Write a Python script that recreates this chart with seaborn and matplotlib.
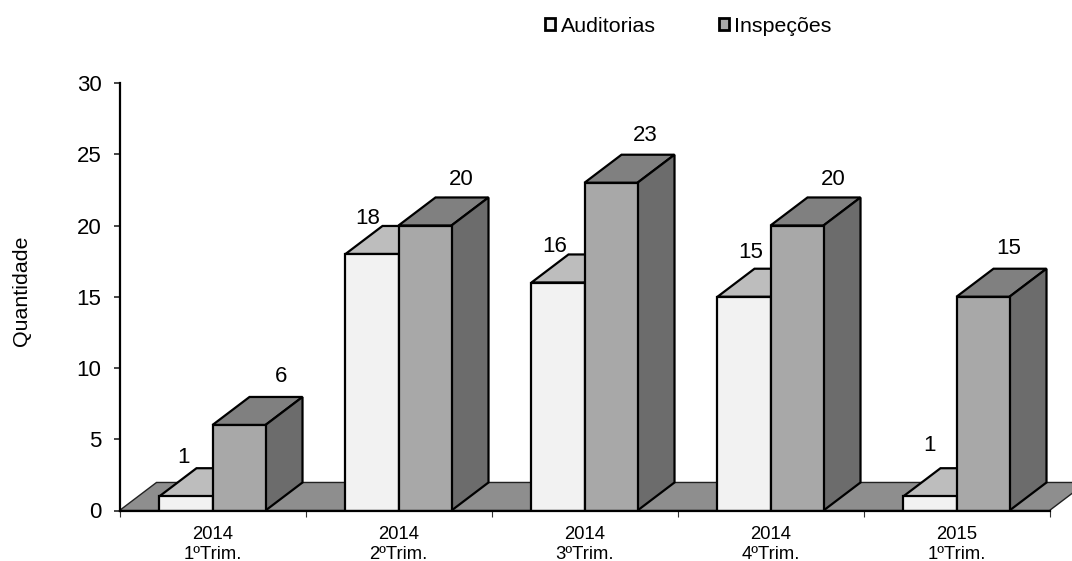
import pandas as pd
import matplotlib
matplotlib.use('Agg')
import matplotlib.pyplot as plt
from matplotlib.patches import Polygon
from matplotlib.ticker import FixedLocator
import seaborn as sns

periods = ['2014\n1ºTrim.', '2014\n2ºTrim.', '2014\n3ºTrim.', '2014\n4ºTrim.', '2015\n1ºTrim.']
auditorias = [1, 18, 16, 15, 1]
inspecoes = [6, 20, 23, 20, 15]
series_names = ['Auditorias', 'Inspeções']

front_colors = ['#f2f2f2', '#a8a8a8']
top_colors = ['#bdbdbd', '#808080']
side_colors = ['#8f8f8f', '#6c6c6c']
floor_color = '#8e8e8e'

# hand placed value labels, pixels away from the top centre of each bar
label_dx = [[-2.5, -4.5, -3.5, 6.5, -0.5], [42.5, 36.5, 34.5, 36.5, 25.5]]
label_dy = [[40, 37, 37, 45, 52], [49, 47, 48, 47, 49.5]]

df = pd.DataFrame({
    'periodo': periods * 2,
    'serie': [series_names[0]] * len(periods) + [series_names[1]] * len(periods),
    'valor': auditorias + inspecoes,
})

sns.set_style('white')
plt.rcParams['font.family'] = ['Liberation Sans', 'DejaVu Sans']

fig = plt.figure(figsize=(10.72, 5.61), dpi=100)
# axes placed so the plot area spans x 119-1049 and y 83-510 in pixels
ax = fig.add_axes([119.5 / 1072, 1 - 510.5 / 561, 930 / 1072, 427.5 / 561])

sns.barplot(data=df, x='periodo', y='valor', hue='serie', order=periods,
            hue_order=series_names, palette=front_colors, width=0.57, gap=0,
            saturation=1, edgecolor='black', linewidth=1.6, errorbar=None, ax=ax)

ax.set_xlim(-0.5, 4.5)
ax.set_ylim(0, 30)

# depth of the fake 3d effect, in data units
depth_x = 37 / 186
depth_y = 28 / (427 / 30)

# floor behind the bars
floor = Polygon([(-0.5, 0), (-0.5 + depth_x, depth_y), (4.5 + depth_x, depth_y), (4.5, 0)],
                closed=True, facecolor=floor_color, edgecolor='#222222', linewidth=1.0,
                zorder=1, clip_on=False)
ax.add_patch(floor)

for s, container in enumerate(ax.containers):
    base_z = 3 + s * 2
    for i, (bar, value) in enumerate(zip(container, container.datavalues)):
        x0 = bar.get_x()
        x1 = x0 + bar.get_width()
        top = bar.get_height()
        bar.set_zorder(base_z + 1)
        bar.set_joinstyle('miter')
        # top and side faces
        ax.add_patch(Polygon([(x0, top), (x0 + depth_x, top + depth_y),
                              (x1 + depth_x, top + depth_y), (x1, top)], closed=True,
                             facecolor=top_colors[s], edgecolor='black', linewidth=1.6,
                             joinstyle='miter', zorder=base_z, clip_on=False))
        ax.add_patch(Polygon([(x1, 0), (x1 + depth_x, depth_y),
                              (x1 + depth_x, top + depth_y), (x1, top)], closed=True,
                             facecolor=side_colors[s], edgecolor='black', linewidth=1.6,
                             joinstyle='miter', zorder=base_z, clip_on=False))
        ax.annotate(f'{value:.0f}', xy=((x0 + x1) / 2, top),
                    xytext=(label_dx[s][i], label_dy[s][i] - 1), textcoords='offset pixels',
                    ha='center', va='center', fontsize=16, color='black', zorder=10,
                    annotation_clip=False)

ax.set_xlabel('')
ax.set_ylabel('Quantidade', fontsize=15.4, labelpad=33, color='black', y=0.515)

ax.set_yticks(range(0, 31, 5))
ax.tick_params(axis='y', left=True, length=4, width=1.2, labelsize=16, pad=9, labelcolor='black')
# categories get the labels, the marks go on the boundaries between them
ax.tick_params(axis='x', which='major', bottom=False, labelsize=13.3, pad=8, labelcolor='black')
for lab in ax.get_xticklabels():
    lab.set_linespacing(1.2)
ax.xaxis.set_minor_locator(FixedLocator([-0.5, 0.5, 1.5, 2.5, 3.5, 4.5]))
ax.tick_params(axis='x', which='minor', bottom=True, length=4, width=0.8, color='#333333')

sns.despine(ax=ax)
ax.spines['left'].set_linewidth(1.6)
ax.spines['bottom'].set_linewidth(1.6)
ax.spines['left'].set_color('black')
ax.spines['bottom'].set_color('black')
ax.spines['bottom'].set_zorder(12)

leg = ax.legend(title=None, ncol=2, frameon=False, fontsize=15.4, loc='center left',
                bbox_to_anchor=(545 / 1072, 1 - 26 / 561), bbox_transform=fig.transFigure,
                borderpad=0, borderaxespad=0, handlelength=0.48, handleheight=0.48,
                handletextpad=0.25, columnspacing=2.95)
for handle in leg.legend_handles:
    handle.set_linewidth(2)
    handle.set_joinstyle('miter')
for t in leg.get_texts():
    t.set_color('black')

fig.savefig('out.png', dpi=100)
